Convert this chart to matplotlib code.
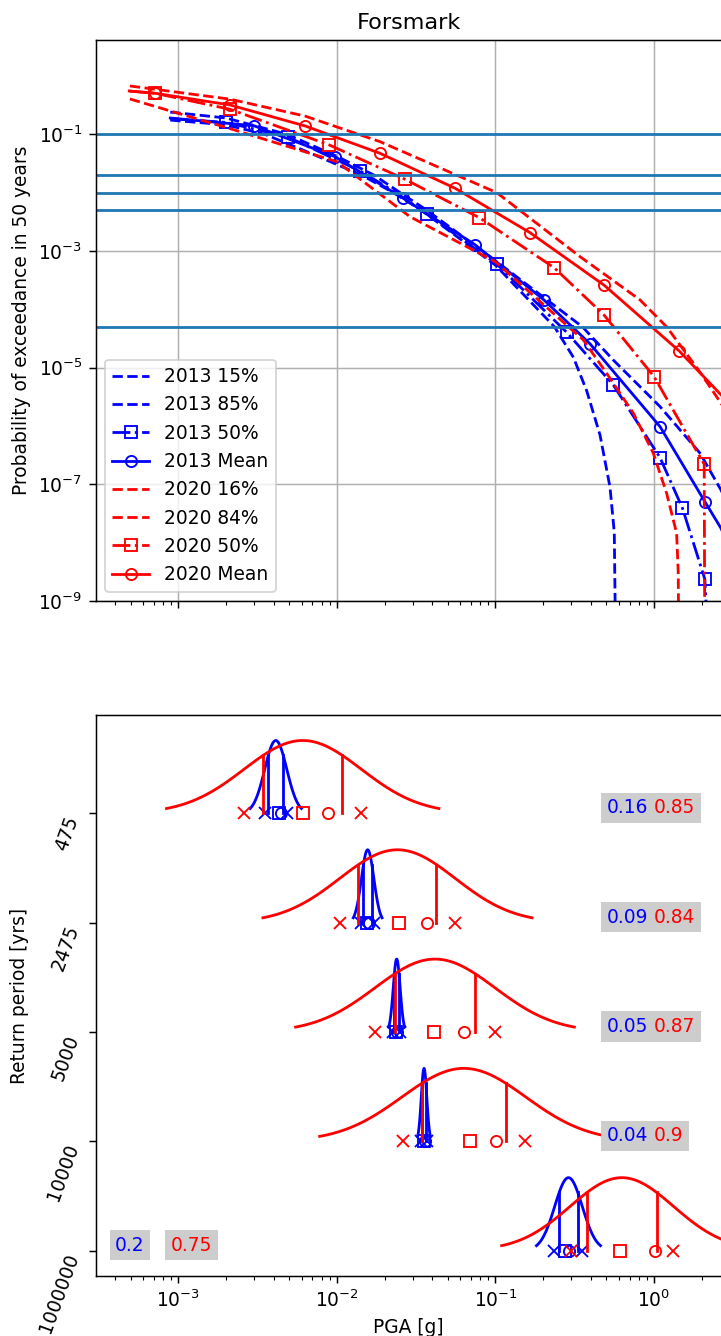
import numpy as np
import matplotlib
matplotlib.use("Agg")
import matplotlib.pyplot as plt
from matplotlib.ticker import NullLocator

# ---- hazard curves (PGA [g] vs probability of exceedance in 50 years) ----
# 2013
x13_p15 = [8.9e-4, 2.0e-3, 3.51e-3, 7.0e-3, 1.429e-2, 2.268e-2, 3.405e-2, 0.1, 0.2355, 0.31, 0.376, 0.456, 0.527, 0.561, 0.585]
y13_p15 = [0.175, 0.145, 0.1, 0.046, 0.02, 0.01, 0.005, 5.7e-4, 5e-5, 1.5e-5, 4.0e-6, 7e-7, 9e-8, 1.5e-8, 1e-12]

x13_p85 = [8.9e-4, 2.0e-3, 4.83e-3, 1.0e-2, 0.0171, 0.02503, 0.03688, 0.1, 0.3535, 0.553, 1.09, 1.95, 2.64, 3.5]
y13_p85 = [0.24, 0.19, 0.1, 0.042, 0.02, 0.01, 0.005, 6.8e-4, 5e-5, 1.35e-5, 2.15e-6, 3.41e-7, 8.0e-8, 1.5e-8]

x13_p50 = [8.9e-4, 2.0e-3, 4.9e-3, 0.0140, 0.0236, 0.0368, 0.1018, 0.281, 0.553, 1.09, 1.51, 2.09, 2.17]
y13_p50 = [0.185, 0.16, 0.09, 0.0235, 0.01, 4.3e-3, 5.98e-4, 4.04e-5, 5.05e-6, 2.87e-7, 3.89e-8, 2.36e-9, 3e-10]
mk13_p50 = [1, 2, 3, 5, 6, 7, 8, 9, 10, 11]

x13_mean = [8.9e-4, 3.0e-3, 9.73e-3, 0.0262, 0.0745, 0.202, 0.395, 1.09, 2.09, 2.64, 3.5]
y13_mean = [0.19, 0.14, 0.0413, 8.0e-3, 1.27e-3, 1.45e-4, 2.55e-5, 9.75e-7, 5.05e-8, 1.77e-8, 3e-9]
mk13_mean = [1, 2, 3, 4, 5, 6, 7, 8]

# 2020
x20_p16 = [4.95e-4, 2.12e-3, 0.01, 0.0289, 0.1, 0.358, 0.502, 0.740, 0.989, 1.2, 1.387, 1.42, 1.45]
y20_p16 = [0.403, 0.125, 0.0339, 3.87e-3, 6.5e-4, 2.98e-5, 8.0e-6, 1.66e-6, 3.41e-7, 7.0e-8, 1.45e-8, 3e-9, 1e-12]

x20_p84 = [4.95e-4, 2.12e-3, 6.3e-3, 0.0187, 0.1018, 0.341, 0.815, 1.2, 1.94, 2.63, 4.0]
y20_p84 = [0.673, 0.40, 0.205, 0.0747, 0.01, 8.0e-4, 1.45e-4, 5.0e-5, 8.5e-6, 2.5e-6, 4e-7]

x20_p50 = [4.91e-4, 7.13e-4, 2.12e-3, 8.95e-3, 0.02688, 0.0791, 0.234, 0.483, 1.0, 2.07, 2.1]
y20_p50 = [0.55, 0.505, 0.268, 0.0656, 0.01694, 3.72e-3, 5.18e-4, 8.0e-5, 7.0e-6, 2.21e-7, 1e-12]
mk20_p50 = [1, 2, 3, 4, 5, 6, 7, 8, 9]

x20_mean = [4.91e-4, 7.13e-4, 2.12e-3, 6.30e-3, 0.0187, 0.0556, 0.165, 0.485, 1.44, 2.77, 4.0]
y20_mean = [0.552, 0.505, 0.318, 0.139, 0.0472, 0.01188, 2.06e-3, 2.58e-4, 1.93e-5, 2.99e-6, 6e-7]
mk20_mean = [1, 2, 3, 4, 5, 6, 7, 8]

# target probabilities (horizontal lines)
target_prob = [0.1, 0.02, 0.01, 0.005, 5e-5]

# ---- lower panel: PGA fractiles per return period ----
return_periods = ['475', '2475', '5000', '10000', '1000000']
row_pos = [4, 3, 2, 1, 0]

pga13_p16 = [0.00351, 0.01429, 0.02268, 0.03405, 0.2355]
pga13_p50 = [0.00433, 0.01542, 0.02359, 0.03541, 0.274]
pga13_mean = [0.00444, 0.01594, 0.0241, 0.03593, 0.2906]
pga13_p84 = [0.00483, 0.0171, 0.02503, 0.03688, 0.3535]
sigma13 = ['0.16', '0.09', '0.05', '0.04', '0.2']

pga20_p16 = [0.00261, 0.01046, 0.01739, 0.026, 0.2979]
pga20_p50 = [0.00609, 0.02463, 0.04112, 0.06906, 0.6095]
pga20_mean = [0.00883, 0.03715, 0.06328, 0.1007, 1.013]
pga20_p84 = [0.0142, 0.05553, 0.09927, 0.1535, 1.315]
sigma20 = ['0.85', '0.84', '0.87', '0.9', '0.75']

# text placement for sigma boxes
txt13_x = [0.5, 0.5, 0.5, 0.5, 4e-4]
txt20_x = [1.0, 1.0, 1.0, 1.0, 9e-4]

W, H, DPI = 721, 1336, 134
fig = plt.figure(figsize=(W / DPI, H / DPI), dpi=DPI)
# the right edge of both panels sits just past the picture's edge
ax1 = fig.add_axes([95.5 / W, (H - 601) / H, 626.5 / W, 561 / H])
ax2 = fig.add_axes([95.5 / W, (H - 1276) / H, 626.5 / W, 561 / H], sharex=ax1)

# top: hazard curves
ax1.plot(x13_p15, y13_p15, '--', color='blue', label='2013 15%')
ax1.plot(x13_p85, y13_p85, '--', color='blue', label='2013 85%')
ax1.plot(x13_p50, y13_p50, '-.', color='blue', marker='s', mfc='none', markevery=mk13_p50, label='2013 50%')
ax1.plot(x13_mean, y13_mean, '-', color='blue', marker='o', mfc='none', markevery=mk13_mean, label='2013 Mean')
ax1.plot(x20_p16, y20_p16, '--', color='red', label='2020 16%')
ax1.plot(x20_p84, y20_p84, '--', color='red', label='2020 84%')
ax1.plot(x20_p50, y20_p50, '-.', color='red', marker='s', mfc='none', markevery=mk20_p50, label='2020 50%')
ax1.plot(x20_mean, y20_mean, '-', color='red', marker='o', mfc='none', markevery=mk20_mean, label='2020 Mean')
for p in target_prob:
    ax1.axhline(p, color='C0')

ax1.set_xscale('log')
ax1.set_yscale('log')
ax1.set_xlim(3.006e-4, 2.68)
ax1.set_ylim(1e-9, 4.13)
ax1.set_yticks([1e-9, 1e-7, 1e-5, 1e-3, 1e-1])
ax1.yaxis.set_minor_locator(NullLocator())
ax1.grid(True)
ax1.tick_params(labelbottom=False)
ax1.set_ylabel('Probability of exceedance in 50 years')
ax1.set_title('Forsmark')
ax1.legend(loc='lower left')

# bottom: fitted lognormal shapes per return period
z = np.linspace(-2.326, 2.326, 121)
zq = 0.674
hgt = 2.0 / 3.0
for i, yb in enumerate(row_pos):
    groups = [
        (pga13_p16, pga13_p50, pga13_mean, pga13_p84, sigma13, 'blue'),
        (pga20_p16, pga20_p50, pga20_mean, pga20_p84, sigma20, 'red'),
    ]
    for p16, p50, pm, p84, sig, col in groups:
        c = 0.5 * (np.log10(p16[i]) + np.log10(p84[i]))
        s10 = float(sig[i]) / np.log(10)
        ax2.plot(10 ** (c + z * s10), yb + hgt * np.exp(-z ** 2 / 2), color=col)
        for q in (-zq, zq):
            xq = 10 ** (c + q * s10)
            ax2.plot([xq, xq], [yb, yb + hgt * np.exp(-q ** 2 / 2)], color=col)
        ax2.plot([p16[i], p84[i]], [yb, yb], 'x', color=col)
        ax2.plot([p50[i]], [yb], 's', color=col, mfc='none')
        ax2.plot([pm[i]], [yb], 'o', color=col, mfc='none')

    ax2.text(txt13_x[i], yb, sigma13[i], color='blue',
             bbox=dict(facecolor='#cdcdcd', edgecolor='none', pad=3))
    ax2.text(txt20_x[i], yb, sigma20[i], color='red',
             bbox=dict(facecolor='#cdcdcd', edgecolor='none', pad=3))

ax2.set_ylim(-0.233, 4.9)
ax2.set_yticks(row_pos)
ax2.set_yticklabels(return_periods, rotation=70, ha='right', va='top')
ax2.set_xlabel('PGA [g]')
ax2.set_ylabel('Return period [yrs]')

fig.savefig('out.png', dpi=DPI)
